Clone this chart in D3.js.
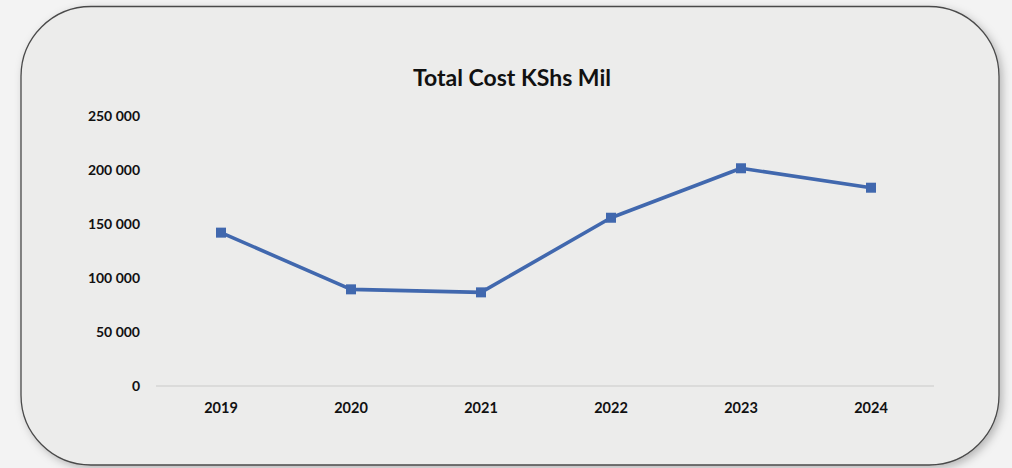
<!DOCTYPE html>
<html>
<head>
<meta charset="utf-8">
<script src="https://cdn.jsdelivr.net/npm/d3@7"></script>
<style>
  body { margin: 0; background: #f3f3f3; }
  svg { display: block; }
  text { font-family: Lato, "Open Sans", sans-serif; font-weight: bold; fill: #111; }
</style>
</head>
<body>
<script>
// chart data
var years = ["2019", "2020", "2021", "2022", "2023", "2024"];
var totalCost = [142000, 89500, 86700, 155800, 201600, 183600];
var yTicks = [0, 50000, 100000, 150000, 200000, 250000];
var chartTitle = "Total Cost KShs Mil";

var svgWidth = 1012;
var svgHeight = 468;

var svg = d3.select("body")
    .append("svg")
    .attr("width", svgWidth)
    .attr("height", svgHeight);

// drop shadow for the frame
var defs = svg.append("defs");
var shadow = defs.append("filter")
    .attr("id", "shadow")
    .attr("x", "-5%").attr("y", "-5%")
    .attr("width", "110%").attr("height", "115%");
shadow.append("feDropShadow")
    .attr("dx", 3).attr("dy", 3)
    .attr("stdDeviation", 4)
    .attr("flood-color", "#000")
    .attr("flood-opacity", 0.25);

svg.append("rect")
    .attr("x", 21)
    .attr("y", 6.5)
    .attr("width", 978)
    .attr("height", 458.5)
    .attr("rx", 70)
    .attr("ry", 70)
    .attr("fill", "#ececeb")
    .attr("stroke", "#4a4a4a")
    .attr("stroke-width", 1.3)
    .attr("filter", "url(#shadow)");

var margin = { top: 116, left: 156 };
var width = 780;
var height = 270;

var chartGroup = svg.append("g")
    .attr("transform", `translate(${margin.left}, ${margin.top})`);

var xScale = d3.scaleBand()
    .domain(years)
    .range([0, width]);

var yScale = d3.scaleLinear()
    .domain([0, 250000])
    .range([height, 0]);

// zero line
chartGroup.append("line")
    .attr("x1", 0)
    .attr("x2", width - 2)
    .attr("y1", yScale(0))
    .attr("y2", yScale(0))
    .attr("stroke", "#c9c9c9")
    .attr("stroke-width", 1.2);

var fmt = d => d3.format(",")(d).replace(/,/g, " ");

// y labels
chartGroup.selectAll(".ylab")
    .data(yTicks)
    .enter()
    .append("text")
    .attr("class", "ylab")
    .attr("x", -16)
    .attr("y", d => yScale(d))
    .attr("dy", "0.35em")
    .style("text-anchor", "end")
    .style("font-size", "14px")
    .text(fmt);

// x labels
var bottomAxis = d3.axisBottom(xScale).tickSize(0).tickPadding(17);
var xAxis = chartGroup.append("g")
    .attr("transform", `translate(0, ${height})`)
    .call(bottomAxis);
xAxis.select(".domain").remove();
xAxis.selectAll("text")
    .style("font-size", "14.5px")
    .style("font-family", "Lato, 'Open Sans', sans-serif")
    .style("fill", "#111");

var pts = years.map((y, i) => ({ year: y, value: totalCost[i] }));

var line = d3.line()
    .x(d => xScale(d.year) + xScale.bandwidth() / 2)
    .y(d => yScale(d.value));

chartGroup.append("path")
    .datum(pts)
    .attr("d", line)
    .attr("fill", "none")
    .attr("stroke", "#4168ae")
    .attr("stroke-width", 3.6)
    .attr("stroke-linejoin", "round");

chartGroup.selectAll(".mark")
    .data(pts)
    .enter()
    .append("rect")
    .attr("class", "mark")
    .attr("x", d => xScale(d.year) + xScale.bandwidth() / 2 - 5)
    .attr("y", d => yScale(d.value) - 5)
    .attr("width", 10)
    .attr("height", 10)
    .attr("fill", "#4168ae");

// title
svg.append("text")
    .attr("x", 512)
    .attr("y", 86)
    .style("text-anchor", "middle")
    .style("font-size", "23px")
    .text(chartTitle);
</script>
</body>
</html>
